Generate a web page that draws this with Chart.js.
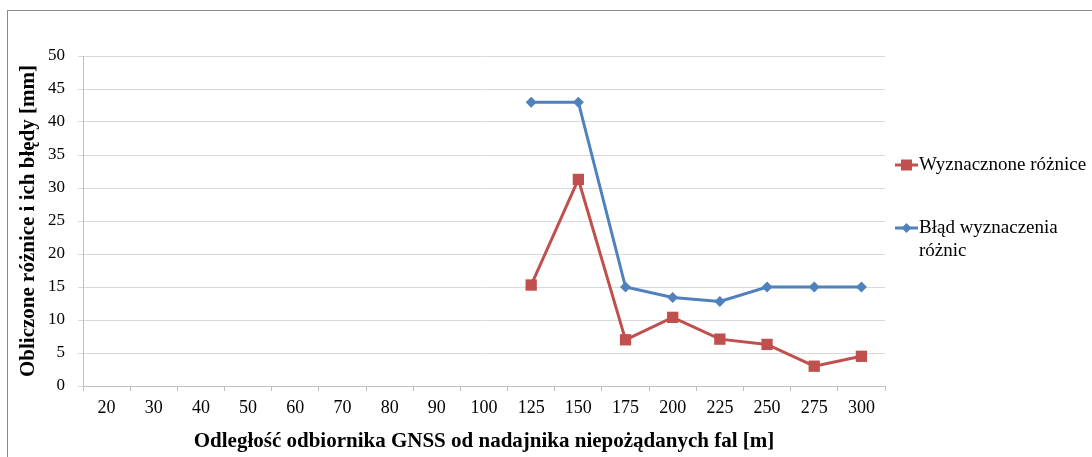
<!DOCTYPE html>
<html>
<head>
<meta charset="utf-8">
<script src="https://cdn.jsdelivr.net/npm/chart.js@4/dist/chart.umd.min.js"></script>
<style>
  html, body { margin: 0; padding: 0; background: #fff; }
  #wrap { position: relative; width: 1092px; height: 457px; overflow: hidden; }
  #frame { position: absolute; left: 7px; top: 10px; width: 1200px; height: 600px;
           border-left: 1.5px solid #8a8a8a; border-top: 1.5px solid #8a8a8a; }
  canvas { position: absolute; left: 0; top: 0; }
</style>
</head>
<body>
<div id="wrap">
  <div id="frame"></div>
  <canvas id="c" width="1092" height="457"></canvas>
</div>
<script>
// Distance from the GNSS receiver to the interfering transmitter [m]
const distances = ['20','30','40','50','60','70','80','90','100','125','150','175','200','225','250','275','300'];
// Computed differences [mm]
const differences = [null,null,null,null,null,null,null,null,null,15.3,31.3,7.0,10.4,7.1,6.3,3.0,4.5];
// Determination error of the differences [mm]
const errors = [null,null,null,null,null,null,null,null,null,43,43,15,13.4,12.8,15,15,15];
const yTicks = [0,5,10,15,20,25,30,35,40,45,50];

const RED = '#c0504d';
const BLUE = '#4f81bd';
const SERIF = '"Liberation Serif", "Times New Roman", serif';

// Legend on the right, with the second label wrapped over two lines
const sideLegend = {
  id: 'sideLegend',
  afterDraw(chart) {
    const ctx = chart.ctx;
    const items = [
      { color: RED, shape: 'square', lines: ['Wyznacznone różnice'], y: 165 },
      { color: BLUE, shape: 'diamond', lines: ['Błąd wyznaczenia', 'różnic'], y: 228 }
    ];
    ctx.save();
    ctx.font = '19px ' + SERIF;
    ctx.textBaseline = 'middle';
    items.forEach(it => {
      ctx.strokeStyle = it.color;
      ctx.lineWidth = 3;
      ctx.beginPath();
      ctx.moveTo(895, it.y);
      ctx.lineTo(918, it.y);
      ctx.stroke();
      ctx.fillStyle = it.color;
      ctx.beginPath();
      if (it.shape === 'square') {
        ctx.rect(901, it.y - 5.5, 11, 11);
      } else {
        ctx.moveTo(906.5, it.y - 5);
        ctx.lineTo(911.5, it.y);
        ctx.lineTo(906.5, it.y + 5);
        ctx.lineTo(901.5, it.y);
        ctx.closePath();
      }
      ctx.fill();
      ctx.fillStyle = '#000';
      it.lines.forEach((t, i) => ctx.fillText(t, 919, it.y + i * 23));
    });
    ctx.restore();
  }
};

new Chart(document.getElementById('c'), {
  type: 'line',
  data: {
    labels: distances,
    datasets: [
      {
        label: 'Wyznacznone różnice',
        data: differences,
        borderColor: RED,
        backgroundColor: RED,
        borderWidth: 3,
        pointStyle: 'rect',
        pointRadius: 8,
        pointHoverRadius: 8,
        pointBorderWidth: 0,
        tension: 0
      },
      {
        label: 'Błąd wyznaczenia różnic',
        data: errors,
        borderColor: BLUE,
        backgroundColor: BLUE,
        borderWidth: 3,
        pointStyle: 'rectRot',
        pointRadius: 5.5,
        pointHoverRadius: 5.5,
        pointBorderWidth: 0,
        tension: 0
      }
    ]
  },
  options: {
    responsive: false,
    animation: false,
    layout: { padding: { top: 56, right: 207, bottom: 0, left: 0 } },
    plugins: { legend: { display: false }, tooltip: { enabled: false } },
    scales: {
      x: {
        offset: true,
        grid: { offset: true, drawOnChartArea: false, drawTicks: true, tickLength: 5, color: '#bfbfbf' },
        border: { color: '#bfbfbf' },
        ticks: { color: '#000', font: { family: SERIF, size: 18 }, padding: 6, maxRotation: 0, autoSkip: false },
        title: {
          display: true,
          text: 'Odległość odbiornika GNSS od nadajnika niepożądanych fal [m]',
          color: '#000',
          font: { family: SERIF, size: 21, weight: 'bold' },
          padding: { top: 0, bottom: 3 }
        },
        afterFit(s) { s.height = 71; }
      },
      y: {
        min: 0,
        max: 50,
        afterBuildTicks(s) { s.ticks = yTicks.map(v => ({ value: v })); },
        grid: { color: '#d9d9d9', drawTicks: true, tickLength: 5 },
        border: { color: '#bfbfbf' },
        ticks: { color: '#000', font: { family: SERIF, size: 17 }, padding: 13 },
        title: {
          display: true,
          text: 'Obliczone różnice i ich błędy [mm]',
          color: '#000',
          font: { family: SERIF, size: 21, weight: 'bold' },
          padding: { top: 16, bottom: 0 }
        },
        afterFit(s) { s.width = 83; }
      }
    }
  },
  plugins: [sideLegend]
});
</script>
</body>
</html>
